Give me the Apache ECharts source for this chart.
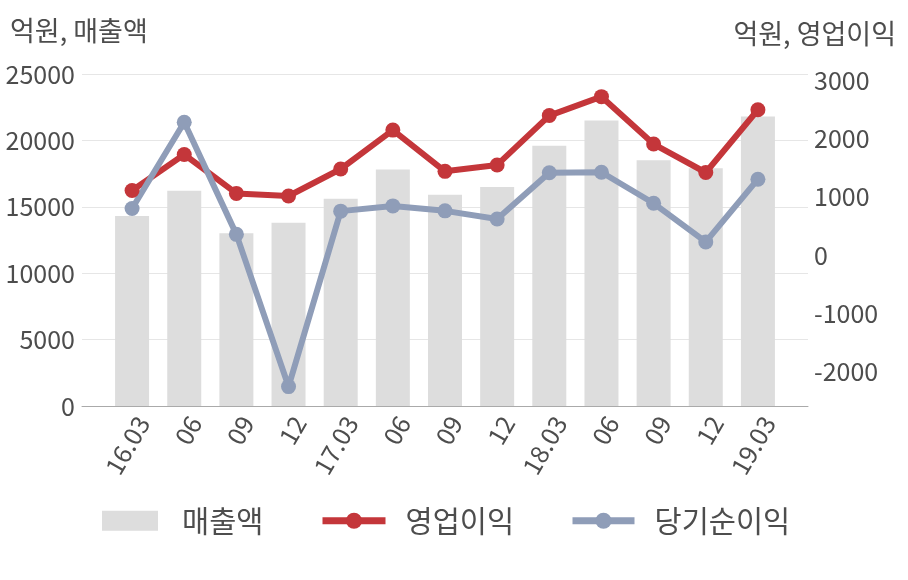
<!DOCTYPE html>
<html><head><meta charset="utf-8">
<script src="https://cdn.jsdelivr.net/npm/echarts@6/dist/echarts.min.js"></script>
<style>html,body{margin:0;padding:0;background:#fff}#c{width:908px;height:580px}</style>
</head><body><div id="c"></div>
<script>
const categories = ['16.03','06','09','12','17.03','06','09','12','18.03','06','09','12','19.03'];
const sales = [14300,16200,13000,13800,15600,17800,15900,16500,19600,21500,18500,17900,21800];
const opProfit = [1110,1730,1060,1015,1480,2150,1440,1550,2400,2725,1910,1420,2500];
const netProfit = [800,2285,355,-2265,755,845,760,620,1415,1425,890,225,1305];
const leftTicks = {min:0, max:25000, interval:5000};
const rightTicks = {min:-3000, max:4000, interval:1000, shownMin:-2000, shownMax:3000};

const FONT = '"Noto Sans CJK KR", "Noto Sans", sans-serif';
const labelColor = '#4d4d4d';
const RED = '#c4363a', BLUE = '#8f9db8', GREY = '#dddddd';
const legendText = {fontSize:29.5, color:labelColor, fontFamily:FONT, padding:[0,0,0,19]};
const legendTextLine = {fontSize:29.5, color:labelColor, fontFamily:FONT, padding:[0,0,0,15]};
const chart = echarts.init(document.getElementById('c'));
chart.setOption({
  animation:false,
  textStyle:{fontFamily:FONT},
  graphic:[
    {type:'text', left:10, top:17, style:{text:'억원, 매출액', font:'27px '+FONT, fill:labelColor}},
    {type:'text', right:12, top:20, style:{text:'억원, 영업이익', font:'27px '+FONT, fill:labelColor}}
  ],
  legend:[
    {top:501, left:97, itemWidth:56, itemHeight:20, textStyle:legendText, data:[{name:'매출액', icon:'rect'}]},
    {top:501, left:314, itemWidth:63, itemHeight:20, textStyle:legendTextLine, lineStyle:{width:7}, data:['영업이익']},
    {top:501, left:564, itemWidth:62, itemHeight:20, textStyle:legendTextLine, lineStyle:{width:7}, data:['당기순이익']}
  ],
  grid:[
    {left:82, right:100, top:74, bottom:174},
    {left:106, right:124, top:74, bottom:174},
    {left:106, right:124, top:22.6, bottom:150.7}
  ],
  xAxis:[
    {type:'category', gridIndex:0, data:categories, axisLine:{lineStyle:{color:'#aaaaaa'}}, axisTick:{show:false}, axisLabel:{show:false}},
    {type:'category', gridIndex:1, data:categories, axisLine:{show:false}, axisTick:{show:false},
      axisLabel:{rotate:60, margin:6, verticalAlign:'top', fontSize:25, color:labelColor, fontFamily:FONT, interval:0}},
    {type:'category', gridIndex:2, data:categories, show:false}
  ],
  yAxis:[
    {type:'value', gridIndex:0, min:leftTicks.min, max:leftTicks.max, interval:leftTicks.interval,
      axisLine:{show:false}, axisTick:{show:false},
      axisLabel:{fontSize:25, color:labelColor, margin:7, fontFamily:FONT, formatter:v => String(v)},
      splitLine:{lineStyle:{color:'#e6e6e6'}}},
    {type:'value', gridIndex:1, min:leftTicks.min, max:leftTicks.max, show:false},
    {type:'value', gridIndex:2, position:'right', min:rightTicks.min, max:rightTicks.max, interval:rightTicks.interval,
      axisLine:{show:false}, axisTick:{show:false}, splitLine:{show:false},
      axisLabel:{fontSize:25, color:labelColor, margin:30, fontFamily:FONT,
        formatter:v => (v < rightTicks.shownMin || v > rightTicks.shownMax) ? '' : String(v)}}
  ],
  series:[
    {name:'매출액', type:'bar', xAxisIndex:1, yAxisIndex:1, data:sales, barWidth:34, itemStyle:{color:GREY}},
    {name:'영업이익', type:'line', xAxisIndex:2, yAxisIndex:2, data:opProfit, symbol:'circle', symbolSize:15,
      lineStyle:{width:6, color:RED}, itemStyle:{color:RED}, z:3},
    {name:'당기순이익', type:'line', xAxisIndex:2, yAxisIndex:2, data:netProfit, symbol:'circle', symbolSize:15,
      lineStyle:{width:6, color:BLUE}, itemStyle:{color:BLUE}, z:3}
  ]
});
</script></body></html>
